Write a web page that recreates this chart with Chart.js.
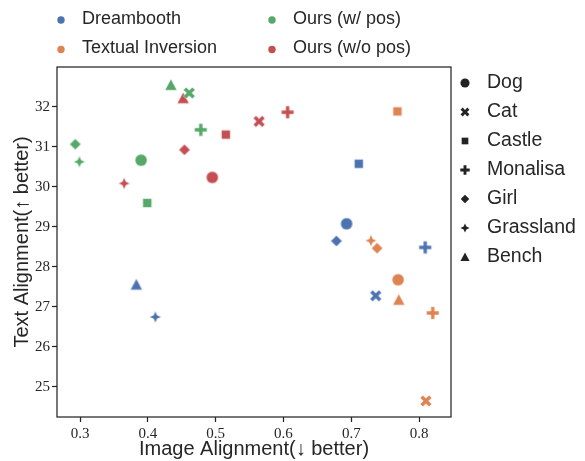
<!DOCTYPE html>
<html>
<head>
<meta charset="utf-8">
<script src="https://cdn.jsdelivr.net/npm/chart.js@4"></script>
<style>
  html, body { margin: 0; padding: 0; background: #fff; }
  #wrap { width: 585px; height: 461px; }
</style>
</head>
<body>
<div id="wrap"><canvas id="chart" width="585" height="461"></canvas></div>
<script>
/* ---------- Data ---------- */

const categories = ['Dog', 'Cat', 'Castle', 'Monalisa', 'Girl', 'Grassland', 'Bench'];
const methods = ['Dreambooth', 'Textual Inversion', 'Ours (w/ pos)', 'Ours (w/o pos)'];

// values in category order
const dreamboothX = [0.693, 0.736, 0.711, 0.809, 0.678, 0.411, 0.383];
const dreamboothY = [29.07, 27.27, 30.57, 28.48, 28.64, 26.74, 27.55];
const textualX    = [0.769, 0.810, 0.768, 0.820, 0.738, 0.729, 0.770];
const textualY    = [27.67, 24.64, 31.88, 26.84, 28.46, 28.65, 27.17];
const withPosX    = [0.390, 0.461, 0.399, 0.478, 0.293, 0.299, 0.434];
const withPosY    = [30.66, 32.34, 29.59, 31.42, 31.06, 30.62, 32.54];
const noPosX      = [0.495, 0.564, 0.515, 0.606, 0.454, 0.365, 0.452];
const noPosY      = [30.23, 31.63, 31.30, 31.86, 30.92, 30.08, 32.21];

const xTicks = [0.3, 0.4, 0.5, 0.6, 0.7, 0.8];
const yTicks = [25, 26, 27, 28, 29, 30, 31, 32];

const xTitle = 'Image Alignment(\u2193 better)';
const yTitle = 'Text Alignment(\u2191 better)';

/* ---------- Styles ---------- */

const COLORS = ['#4C72B0', '#DD8452', '#55A868', '#C44E52'];
const SHAPES = ['circle', 'x', 'square', 'plus', 'diamond', 'star4', 'triangle'];
const INK = '#262626';
const SANS = '"Liberation Sans", Arial, sans-serif';
const SERIF = '"Liberation Serif", "DejaVu Serif", serif';

function plusPath(ctx, r, w, rot) {
    const pts = [[-w, -r], [w, -r], [w, -w], [r, -w], [r, w], [w, w],
                 [w, r], [-w, r], [-w, w], [-r, w], [-r, -w], [-w, -w]];
    const c = Math.cos(rot), s = Math.sin(rot);
    pts.forEach(([px, py], i) => {
        const x = px * c - py * s, y = px * s + py * c;
        if (i === 0) ctx.moveTo(x, y); else ctx.lineTo(x, y);
    });
}

function tracePath(ctx, shape) {
    switch (shape) {
        case 'circle': ctx.arc(0, 0, 6, 0, Math.PI * 2); break;
        case 'x': plusPath(ctx, 6.3, 1.9, Math.PI / 4); break;
        case 'square': ctx.rect(-4.4, -4.4, 8.8, 8.8); break;
        case 'plus': plusPath(ctx, 6.2, 1.9, 0); break;
        case 'diamond':
            ctx.moveTo(0, -5.6); ctx.lineTo(5.6, 0); ctx.lineTo(0, 5.6); ctx.lineTo(-5.6, 0);
            break;
        case 'star4': {
            const ro = 6, ri = 2.6;
            for (let i = 0; i < 8; i++) {
                const ang = -Math.PI / 2 + i * Math.PI / 4;
                const r = i % 2 === 0 ? ro : ri;
                const x = r * Math.cos(ang), y = r * Math.sin(ang);
                if (i === 0) ctx.moveTo(x, y); else ctx.lineTo(x, y);
            }
            break;
        }
        case 'triangle':
            ctx.moveTo(0, -6); ctx.lineTo(6, 5.2); ctx.lineTo(-6, 5.2);
            break;
    }
    ctx.closePath();
}

function makeMarker(shape, color, scale = 1, edge = true) {
    const size = 18;
    const cv = document.createElement('canvas');
    cv.width = size; cv.height = size;
    const ctx = cv.getContext('2d');
    ctx.translate(size / 2, size / 2);
    ctx.scale(scale, scale);
    ctx.beginPath();
    tracePath(ctx, shape);
    ctx.fillStyle = color;
    ctx.fill();
    if (edge) {
        ctx.strokeStyle = 'rgba(255,255,255,0.9)';
        ctx.lineWidth = 0.5;
        ctx.stroke();
    }
    return cv;
}

const seriesX = [dreamboothX, textualX, withPosX, noPosX];
const seriesY = [dreamboothY, textualY, withPosY, noPosY];

const datasets = methods.map((m, i) => ({
    label: m,
    data: seriesX[i].map((x, j) => ({ x, y: seriesY[i][j] })),
    pointStyle: SHAPES.map(s => makeMarker(s, COLORS[i])),
    pointRadius: 6,
    backgroundColor: COLORS[i],
    borderColor: COLORS[i],
}));

/* ---------- Frame, titles and legends ---------- */

const extras = {
    id: 'extras',
    afterDraw(chart) {
        const ctx = chart.ctx;
        const a = chart.chartArea;
        ctx.save();
        ctx.strokeStyle = INK;
        ctx.lineWidth = 1.25;
        ctx.strokeRect(a.left, a.top, a.right - a.left, a.bottom - a.top);

        ctx.fillStyle = INK;
        ctx.font = '20px ' + SANS;
        ctx.textAlign = 'center';
        ctx.textBaseline = 'middle';
        ctx.fillText(xTitle, (a.left + a.right) / 2, 449);
        ctx.save();
        ctx.translate(22, (a.top + a.bottom) / 2);
        ctx.rotate(-Math.PI / 2);
        ctx.fillText(yTitle, 0, 0);
        ctx.restore();

        // hue legend, two columns
        ctx.textAlign = 'left';
        ctx.font = '18px ' + SANS;
        const hueCols = [61, 272];
        const hueRows = [19, 48.5];
        methods.forEach((m, i) => {
            const cx = hueCols[Math.floor(i / 2)];
            const cy = hueRows[i % 2];
            ctx.beginPath();
            ctx.arc(cx, cy + 1, 3.7, 0, Math.PI * 2);
            ctx.fillStyle = COLORS[i];
            ctx.fill();
            ctx.fillStyle = INK;
            ctx.fillText(m, cx + 21, cy);
        });

        // style legend
        ctx.font = '19.5px ' + SANS;
        categories.forEach((c, i) => {
            const cy = 83 + i * 29;
            const mk = makeMarker(SHAPES[i], '#222', 0.76, false);
            ctx.drawImage(mk, 465 - mk.width / 2, cy - mk.height / 2);
            ctx.fillStyle = INK;
            ctx.fillText(c, 487, cy - 0.5);
        });
        ctx.restore();
    }
};

/* ---------- Chart ---------- */

new Chart(document.getElementById('chart'), {
    type: 'scatter',
    data: { datasets },
    options: {
        responsive: false,
        animation: false,
        devicePixelRatio: 1,
        layout: { padding: { top: 67, right: 134, left: 0, bottom: 0 } },
        plugins: { legend: { display: false }, tooltip: { enabled: false } },
        scales: {
            x: {
                type: 'linear',
                min: 0.266,
                max: 0.847,
                afterFit: s => { s.height = 44; },
                afterBuildTicks: s => { s.ticks = xTicks.map(v => ({ value: v })); },
                border: { display: false },
                grid: { drawOnChartArea: false, drawTicks: true, tickLength: 5, tickColor: INK, tickWidth: 1.25 },
                ticks: {
                    color: INK, padding: 3,
                    font: { family: SERIF, size: 15 },
                    callback: v => v.toFixed(1),
                },
            },
            y: {
                type: 'linear',
                min: 24.24,
                max: 32.99,
                afterFit: s => { s.width = 57; },
                afterBuildTicks: s => { s.ticks = yTicks.map(v => ({ value: v })); },
                border: { display: false },
                grid: { drawOnChartArea: false, drawTicks: true, tickLength: 5, tickColor: INK, tickWidth: 1.25 },
                ticks: {
                    color: INK, padding: 2,
                    font: { family: SERIF, size: 15 },
                    callback: v => String(v),
                },
            },
        },
    },
    plugins: [extras],
});
</script>
</body>
</html>
